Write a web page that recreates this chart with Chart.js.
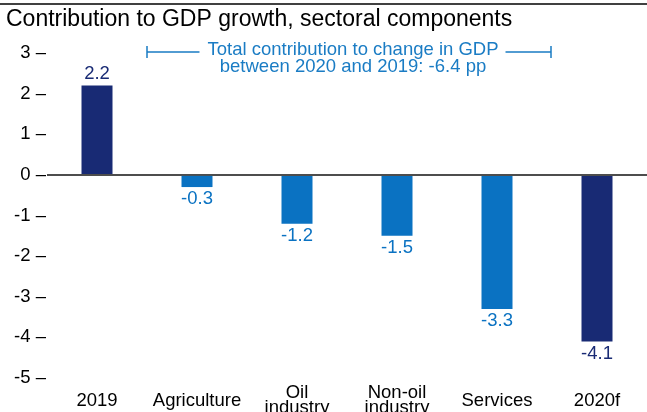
<!DOCTYPE html>
<html>
<head>
<meta charset="utf-8">
<script src="https://cdn.jsdelivr.net/npm/chart.js@4/dist/chart.umd.min.js"></script>
<style>
  html, body { margin: 0; padding: 0; background: #fff; }
  #wrap { width: 647px; height: 412px; position: relative; }
</style>
</head>
<body>
<div id="wrap"><canvas id="c" width="647" height="412"></canvas></div>
<script>
const categories = ['2019', 'Agriculture', ['Oil', 'industry'], ['Non-oil', 'industry'], 'Services', '2020f'];
const values = [2.2, -0.3, -1.2, -1.5, -3.3, -4.1];
const valueLabels = ['2.2', '-0.3', '-1.2', '-1.5', '-3.3', '-4.1'];
const barKinds = ['total', 'sector', 'sector', 'sector', 'sector', 'total'];
const yTicks = [3, 2, 1, 0, -1, -2, -3, -4, -5];
const titleText = 'Contribution to GDP growth, sectoral components';
const noteLines = ['Total contribution to change in GDP', 'between 2020 and 2019: -6.4 pp'];

const NAVY = '#182a74';
const BLUE = '#0a72c2';
const NOTE_BLUE = '#1a7cc4';
const FONT = '"Liberation Sans", Arial, sans-serif';
const FS = 18.5;

const colorFor = k => k === 'total' ? NAVY : BLUE;

const decorPlugin = {
  id: 'decor',
  beforeDraw(chart) {
    const ctx = chart.ctx;
    ctx.save();
    ctx.fillStyle = '#fff';
    ctx.fillRect(0, 0, chart.width, chart.height);
    ctx.strokeStyle = '#000';
    ctx.lineWidth = 1.5;
    ctx.beginPath();
    ctx.moveTo(0, 4);
    ctx.lineTo(chart.width, 4);
    ctx.stroke();
    ctx.fillStyle = '#000';
    ctx.font = '23px ' + FONT;
    ctx.textBaseline = 'middle';
    ctx.textAlign = 'left';
    ctx.fillText(titleText, 6, 20);
    ctx.restore();
  },
  afterDatasetsDraw(chart) {
    const ctx = chart.ctx;
    const meta = chart.getDatasetMeta(0);
    ctx.save();
    ctx.font = FS + 'px ' + FONT;
    ctx.textAlign = 'center';
    ctx.textBaseline = 'middle';
    meta.data.forEach((bar, i) => {
      const v = values[i];
      ctx.fillStyle = colorFor(barKinds[i]);
      const y = v >= 0 ? bar.y - 12 : bar.y + 12;
      ctx.fillText(valueLabels[i], bar.x, y);
    });
    const yScale = chart.scales.y;
    const xl = 147;
    const xr = 551;
    const yb = yScale.getPixelForValue(3) - 1;
    ctx.fillStyle = NOTE_BLUE;
    ctx.strokeStyle = NOTE_BLUE;
    ctx.lineWidth = 1.5;
    const cx = 353;
    const tw = ctx.measureText(noteLines[0]).width;
    ctx.beginPath();
    ctx.moveTo(xl, yb); ctx.lineTo(cx - tw / 2 - 8, yb);
    ctx.moveTo(cx + tw / 2 + 7, yb); ctx.lineTo(xr, yb);
    ctx.moveTo(xl, yb - 6); ctx.lineTo(xl, yb + 6);
    ctx.moveTo(xr, yb - 6); ctx.lineTo(xr, yb + 6);
    ctx.stroke();
    ctx.fillText(noteLines[0], cx, yb - 2);
    ctx.fillText(noteLines[1], cx, yb + 15);
    ctx.restore();
  }
};

new Chart(document.getElementById('c'), {
  type: 'bar',
  data: {
    labels: categories,
    datasets: [{
      data: values,
      backgroundColor: barKinds.map(colorFor),
      borderWidth: 0,
      categoryPercentage: 1,
      barPercentage: 0.31
    }]
  },
  options: {
    responsive: false,
    animation: false,
    devicePixelRatio: 1,
    layout: { padding: { top: 53, left: 0, right: -4, bottom: 0 } },
    plugins: { legend: { display: false }, tooltip: { enabled: false }, title: { display: false } },
    scales: {
      x: {
        grid: { display: false, drawTicks: false },
        border: { display: false },
        ticks: {
          color: '#000',
          font: { family: FONT, size: FS, lineHeight: 0.82 },
          padding: 15,
          crossAlign: 'center',
          maxRotation: 0,
          autoSkip: false
        },
        afterFit(s) { s.height = 34; }
      },
      y: {
        min: -5,
        max: 3,
        afterBuildTicks(s) { s.ticks = yTicks.map(v => ({ value: v })); },
        grid: {
          drawTicks: false,
          color: c => (c.tick && c.tick.value === 0) ? '#4d4d4d' : 'rgba(0,0,0,0)',
          lineWidth: c => (c.tick && c.tick.value === 0) ? 2 : 0
        },
        border: { display: false },
        ticks: {
          color: '#000',
          font: { family: FONT, size: FS },
          padding: 1,
          callback: v => v + ' \u2013'
        },
        afterFit(s) { s.width = 47; }
      }
    }
  },
  plugins: [decorPlugin]
});
</script>
</body>
</html>
